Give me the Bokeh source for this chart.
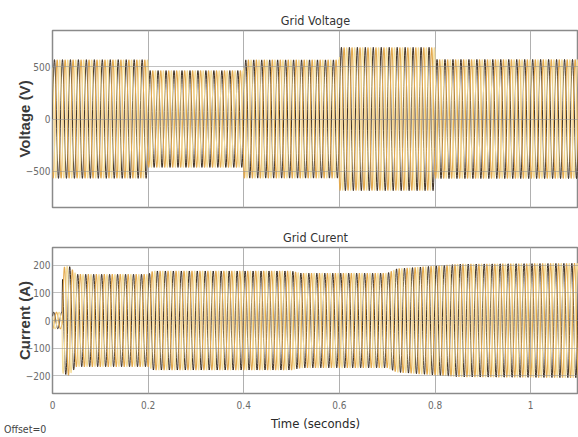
import numpy as np
from bokeh.plotting import figure
from bokeh.layouts import column
from bokeh.models import FixedTicker, Range1d, Div
from bokeh.embed import file_html
from bokeh.resources import INLINE

# ---------------- data ----------------
freq_hz = 60
t_end = 1.10
# grid voltage: amplitude (V) per time segment (segment starts, s)
volt_seg_start = [0.0, 0.2, 0.4, 0.6, 0.8]
volt_seg_amp = [570, 465, 568, 688, 572]
# grid current: envelope breakpoints (s) and peak amplitude (A)
cur_env_t = [0.0, 0.020, 0.021, 0.034, 0.050, 0.20, 0.21, 0.50, 0.52, 0.70, 0.72, 0.85, 1.10]
cur_env_amp = [30, 30, 192, 200, 168, 168, 180, 180, 172, 172, 188, 205, 208]
phase_deg = [0, -120, 120]
phase_colors = ["#2a1c10", "#e4aa4e", "#f4dc98"]
phase_widths = [0.9, 1.1, 1.1]
x_ticks = [0, 0.2, 0.4, 0.6, 0.8, 1.0]
x_tick_labels = ["0", "0.2", "0.4", "0.6", "0.8", "1"]
volt_ticks = [-500, 0, 500]
cur_ticks = [-200, -100, 0, 100, 200]
titles = ["Grid Voltage", "Grid Curent"]
y_labels = ["Voltage (V)", "Current (A)"]
x_label = "Time (seconds)"
offset_text = "Offset=0"

# ---------------- waveforms ----------------
t = np.arange(0, t_end + 1e-9, 1 / 2400)
v_idx = np.searchsorted(volt_seg_start, t, side="right") - 1
v_amp = np.array(volt_seg_amp, dtype=float)[v_idx]
i_amp = np.interp(t, cur_env_t, cur_env_amp)

NARROW = "Liberation Sans Narrow, DejaVu Sans Condensed, Roboto Condensed, Liberation Sans, sans-serif"
TEXT_FONT = "Liberation Sans"


def make_fig(height, yr, yticks, ylab, top_border, bottom_border, show_x, title):
    p = figure(width=578, height=height, x_range=Range1d(0, t_end), y_range=Range1d(-yr, yr),
               output_backend="svg", toolbar_location=None, title=title,
               min_border_left=52, min_border_right=0, min_border_top=top_border,
               min_border_bottom=bottom_border)
    p.title.align = "center"
    p.title.text_font = NARROW
    p.title.text_font_size = "12.5px"
    p.title.text_font_style = "normal"
    p.title.text_color = "#333333"
    p.title.standoff = 5
    p.background_fill_color = "white"
    p.border_fill_color = "white"
    p.outline_line_color = "#8a8a8a"
    p.outline_line_width = 1.5
    p.xaxis.ticker = FixedTicker(ticks=x_ticks)
    p.xaxis.major_label_overrides = {k: v for k, v in zip(x_ticks, x_tick_labels)}
    p.yaxis.ticker = FixedTicker(ticks=yticks)
    p.xgrid.ticker = FixedTicker(ticks=x_ticks)
    p.ygrid.ticker = FixedTicker(ticks=yticks)
    p.xgrid.grid_line_color = "#b0b0b0"
    p.ygrid.grid_line_color = "#8f8f8f"
    p.ygrid.grid_line_alpha = 0.55
    p.ygrid.level = "overlay"
    for ax in (p.xaxis, p.yaxis):
        ax.axis_line_color = None
        ax.major_tick_line_color = None
        ax.minor_tick_line_color = None
        ax.major_tick_out = 0
        ax.major_tick_in = 0
        ax.minor_tick_out = 0
        ax.minor_tick_in = 0
        ax.major_label_text_font = NARROW
        ax.major_label_text_font_size = "10px"
        ax.major_label_text_color = "#6a6a6a"
    p.yaxis.major_label_standoff = 2
    p.yaxis.axis_label = ylab
    p.yaxis.axis_label_text_font = TEXT_FONT
    p.yaxis.axis_label_text_font_size = "15px"
    p.yaxis.axis_label_text_font_style = "bold"
    p.yaxis.axis_label_text_color = "#3a3a3a"
    p.yaxis.axis_label_standoff = -10
    p.xaxis.major_label_standoff = 7
    if show_x:
        p.xaxis.axis_label = x_label
        p.xaxis.axis_label_text_font = NARROW
        p.xaxis.axis_label_text_font_size = "13px"
        p.xaxis.axis_label_text_font_style = "normal"
        p.xaxis.axis_label_text_color = "#2a2a2a"
        p.xaxis.axis_label_standoff = 4
    else:
        p.xaxis.visible = False
    return p


p1 = make_fig(225, 850, volt_ticks, y_labels[0], 30, 18, False, titles[0])
for ph, col, w in zip(phase_deg, phase_colors, phase_widths):
    y = v_amp * np.sin(2 * np.pi * freq_hz * t + np.deg2rad(ph))
    p1.line(t, y, line_color=col, line_width=w)

p2 = make_fig(212, 265, cur_ticks, y_labels[1], 22, 44, True, titles[1])
for ph, col, w in zip(phase_deg, phase_colors, phase_widths):
    y = i_amp * np.sin(2 * np.pi * freq_hz * t + np.deg2rad(ph + 30))
    p2.line(t, y, line_color=col, line_width=w)

offset_div = Div(text=offset_text, width=60, height=14, margin=(-15, 0, 0, 4),
                 styles={"font-family": NARROW, "font-size": "10.5px", "color": "#444444",
                         "line-height": "14px"})

layout = column(p1, p2, offset_div, spacing=0)
open("out.html", "w").write(file_html(layout, INLINE))
